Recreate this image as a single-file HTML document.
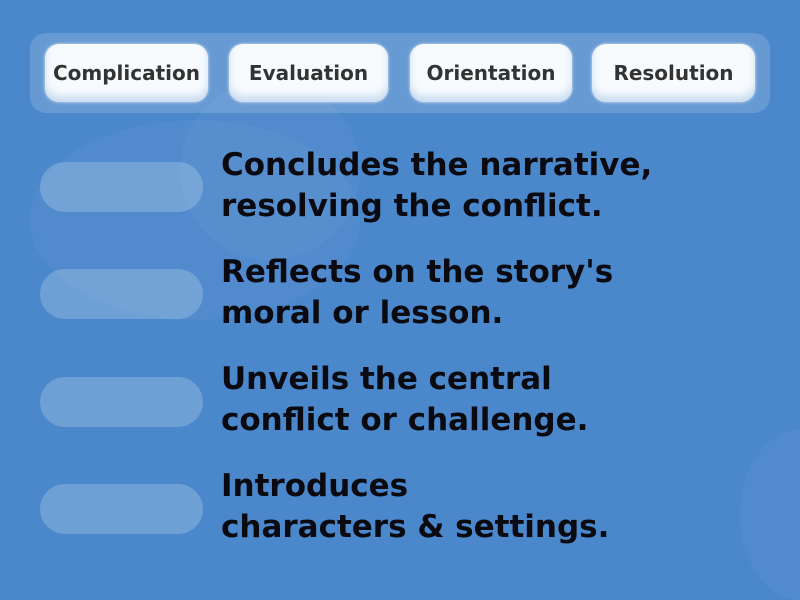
<!DOCTYPE html>
<html><head><style>
body{margin:0;width:800px;height:600px;background:#4a87cb;position:relative;overflow:hidden;font-family:"DejaVu Sans","Liberation Sans",sans-serif}
.cloud{position:absolute;background:rgba(255,255,255,0.04);border-radius:50%}
.panel{position:absolute;left:30px;top:33px;width:740px;height:80px;border-radius:16px;background:rgba(255,255,255,0.16)}
.card{position:absolute;top:44px;height:58px;border-radius:14px;background:#f7fbfe;box-shadow:inset 0 -6px 8px rgba(170,200,230,0.6),0 0 3px rgba(255,255,255,0.8);display:flex;align-items:center;justify-content:center;font-weight:bold;font-size:20px;color:#333}
.slot{position:absolute;left:40px;width:163px;height:50px;border-radius:25px;background:rgba(255,255,255,0.2)}
.txt{position:absolute;left:221px;font-weight:bold;font-size:31px;line-height:41px;color:#0a0a10;white-space:nowrap}
</style></head><body>
<div class="cloud" style="left:30px;top:120px;width:330px;height:200px"></div>
<div class="cloud" style="left:180px;top:80px;width:180px;height:180px"></div>
<div class="cloud" style="left:740px;top:430px;width:120px;height:170px"></div>
<div class="panel"></div>
<div class="card" style="left:45px;width:163px">Complication</div>
<div class="card" style="left:229px;width:159px">Evaluation</div>
<div class="card" style="left:410px;width:162px">Orientation</div>
<div class="card" style="left:592px;width:163px">Resolution</div>
<div class="slot" style="top:162px"></div>
<div class="slot" style="top:269px"></div>
<div class="slot" style="top:377px"></div>
<div class="slot" style="top:484px"></div>
<div class="txt" style="top:145px">Concludes the narrative,<br>resolving the conflict.</div>
<div class="txt" style="top:252px">Reflects on the story's<br>moral or lesson.</div>
<div class="txt" style="top:359px">Unveils the central<br>conflict or challenge.</div>
<div class="txt" style="top:466px">Introduces<br>characters &amp; settings.</div>
</body></html>
